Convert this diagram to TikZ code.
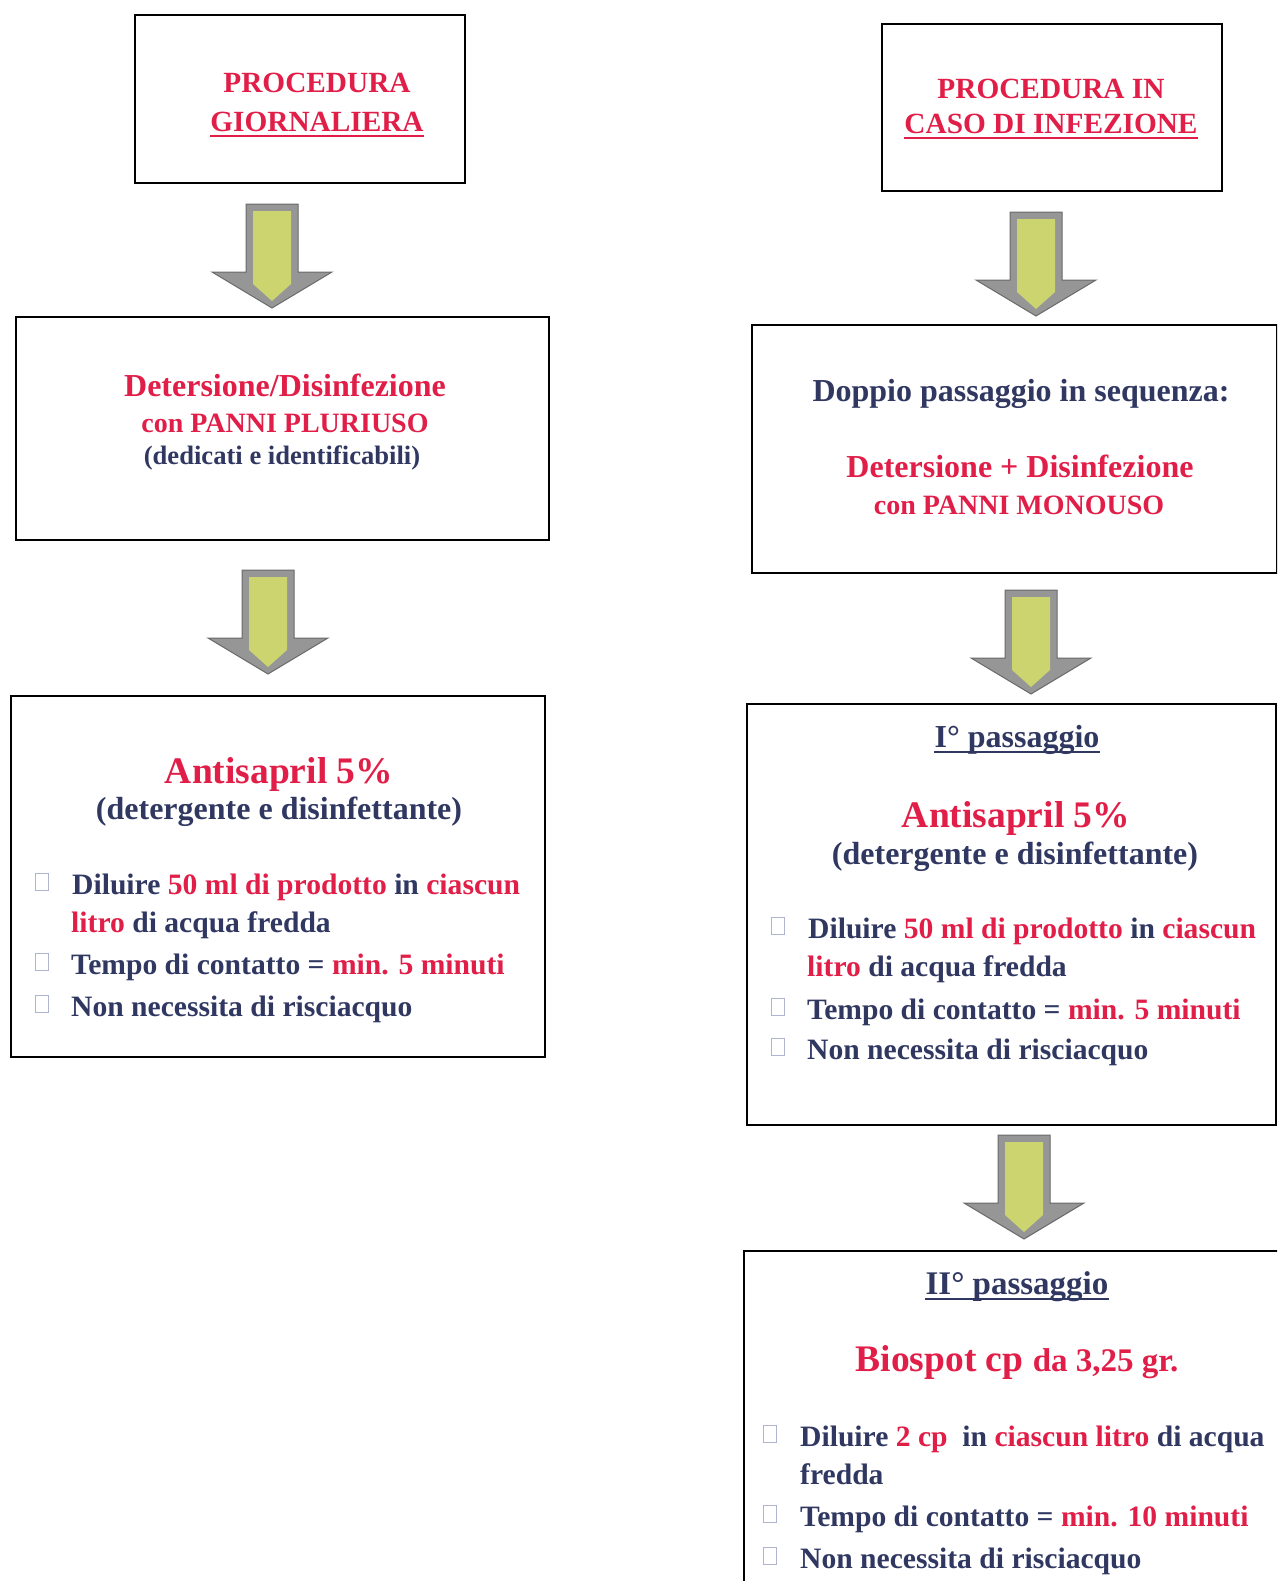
\documentclass[tikz,border=0pt]{standalone}
\usepackage{fontspec}
\setmainfont{Liberation Serif}
\usepackage{tikz}
\usetikzlibrary{positioning}
\definecolor{rosso}{RGB}{224,30,72}
\definecolor{blu}{RGB}{48,56,98}
\definecolor{grigio}{RGB}{150,150,150}
\definecolor{grigioscuro}{RGB}{105,105,105}
\definecolor{giallo}{RGB}{204,212,112}
\definecolor{casella}{RGB}{175,180,208}
\tikzstyle{box} = [draw=black, line width=2.5pt, inner sep=0pt]
\tikzstyle{titolo} = [text=rosso, font=\bfseries\fontsize{29.3}{34}\selectfont, inner sep=0pt, anchor=base]
\tikzstyle{riga} = [text=blu, font=\bfseries\fontsize{29.6}{34}\selectfont, inner sep=0pt, anchor=base west]
\tikzstyle{quadretto} = [draw=casella, line width=1.3pt, minimum width=13pt, minimum height=17pt, inner sep=0pt]
\tikzstyle{sottolinea} = [line width=2.5pt]
\newcommand{\rs}[1]{\textcolor{rosso}{#1}}
\newcommand{\fs}[1]{\bfseries\fontsize{#1}{#1}\selectfont}
\newcommand{\freccia}[1]{%
  \begin{scope}[shift={(#1)}]
    \filldraw[fill=grigio, draw=grigioscuro, line width=1pt] (-26,0) -- (26,0) -- (26,68) -- (60,68) -- (0,104) -- (-60,68) -- (-26,68) -- cycle;
    \fill[giallo] (-19,7) -- (19,7) -- (19,80) -- (0,97) -- (-19,80) -- cycle;
  \end{scope}}

\begin{document}
\begin{tikzpicture}[x=1pt, y=-1pt]
    \useasboundingbox (0,0) rectangle (1277,1581);
    \clip (0,0) rectangle (1277,1581);

    \node[box, minimum width=330pt, minimum height=168pt] (giornaliera) at (300,99) {};
    \node[titolo] (g1) at (317,93) {PROCEDURA};
    \node[titolo] (g2) at (317,132) {GIORNALIERA};
    \draw[sottolinea, rosso] ([yshift=-4pt]g2.base west) -- ([yshift=-4pt]g2.base east);

    \node[box, minimum width=340pt, minimum height=167pt] (infezione) at (1052,107.5) {};
    \node[titolo] (i1) at (1051,99) {PROCEDURA IN};
    \node[titolo] (i2) at (1051,134) {CASO DI INFEZIONE};
    \draw[sottolinea, rosso] ([yshift=-4pt]i2.base west) -- ([yshift=-4pt]i2.base east);

    \coordinate (f1) at (272,204);
    \coordinate (f2) at (1036,212);
    \freccia{f1}
    \freccia{f2}

    \node[box, minimum width=533pt, minimum height=223pt] (pluriuso) at (282.5,428.5) {};
    \node[titolo, font=\fs{32}] (p1) at (285,396) {Detersione/Disinfezione};
    \node[titolo, font=\fs{28}] (p2) at (285,432) {con PANNI PLURIUSO};
    \node[titolo, text=blu, font=\fs{26.6}] (p3) at (282,464) {(dedicati e identificabili)};

    \node[box, minimum width=525pt, minimum height=248pt] (monouso) at (1014.5,449) {};
    \node[titolo, text=blu, font=\fs{32}] (m1) at (1021,401) {Doppio passaggio in sequenza:};
    \node[titolo, font=\fs{32}] (m2) at (1020,477) {Detersione + Disinfezione};
    \node[titolo, font=\fs{28}] (m3) at (1019,514) {con PANNI MONOUSO};

    \coordinate (f3) at (268,570);
    \coordinate (f4) at (1031,590);
    \freccia{f3}
    \freccia{f4}

    \node[box, minimum width=534pt, minimum height=361pt] (antisapril) at (278,876.5) {};
    \node[titolo, font=\fs{37.5}] (a1) at (279,783) {Antisapril 5\%};
    \node[titolo, text=blu, font=\fs{32}] (a2) at (279,819) {(detergente e disinfettante)};
    \node[quadretto] (ac1) at (42,882) {};
    \node[riga] (ar1) at (72,894) {Diluire \rs{50 ml di prodotto} in \rs{ciascun}};
    \node[riga] (ar2) at (71,932) {\rs{litro} di acqua fredda};
    \node[quadretto] (ac2) at (42,962) {};
    \node[riga] (ar3) at (71,974) {Tempo di contatto = \rs{min. 5 minuti}};
    \node[quadretto] (ac3) at (42,1004) {};
    \node[riga] (ar4) at (71,1016) {Non necessita di risciacquo};

    \node[box, minimum width=529pt, minimum height=421pt] (passaggio1) at (1011.5,914.5) {};
    \node[titolo, text=blu, font=\fs{32}] (s1) at (1017,747) {I° passaggio};
    \draw[sottolinea, blu] ([yshift=-5pt]s1.base west) -- ([yshift=-5pt]s1.base east);
    \node[titolo, font=\fs{37.5}] (s2) at (1016,827) {Antisapril 5\%};
    \node[titolo, text=blu, font=\fs{32}] (s3) at (1015,864) {(detergente e disinfettante)};
    \node[quadretto] (sc1) at (778,926) {};
    \node[riga] (sr1) at (808,938) {Diluire \rs{50 ml di prodotto} in \rs{ciascun}};
    \node[riga] (sr2) at (807,976) {\rs{litro} di acqua fredda};
    \node[quadretto] (sc2) at (778,1007) {};
    \node[riga] (sr3) at (807,1019) {Tempo di contatto = \rs{min. 5 minuti}};
    \node[quadretto] (sc3) at (778,1047) {};
    \node[riga] (sr4) at (807,1059) {Non necessita di risciacquo};

    \coordinate (f5) at (1024,1135);
    \freccia{f5}

    \node[box, minimum width=556pt, minimum height=349pt] (passaggio2) at (1022,1425.5) {};
    \node[titolo, text=blu, font=\fs{33}] (t1) at (1017,1294) {II° passaggio};
    \draw[sottolinea, blu] ([yshift=-5pt]t1.base west) -- ([yshift=-5pt]t1.base east);
    \node[titolo, font=\fs{37.5}] (t2) at (1017,1371) {Biospot cp {\fs{33}da 3,25 gr.}};
    \node[quadretto] (tc1) at (770,1434) {};
    \node[riga] (tr1) at (800,1446) {Diluire \rs{2 cp}\ \ in \rs{ciascun litro} di acqua};
    \node[riga] (tr2) at (800,1484) {fredda};
    \node[quadretto] (tc2) at (770,1514) {};
    \node[riga] (tr3) at (800,1526) {Tempo di contatto = \rs{min. 10 minuti}};
    \node[quadretto] (tc3) at (770,1556) {};
    \node[riga] (tr4) at (800,1568) {Non necessita di risciacquo};
\end{tikzpicture}
\end{document}
